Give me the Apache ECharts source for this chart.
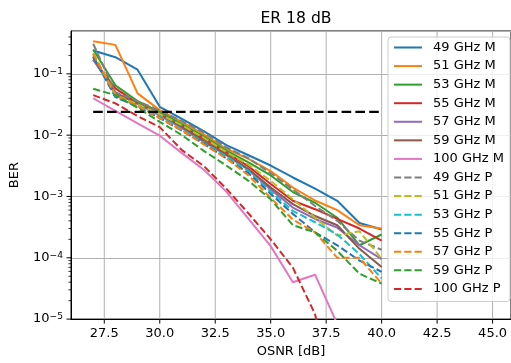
<!DOCTYPE html>
<html><head><meta charset="utf-8">
<script src="https://cdn.jsdelivr.net/npm/echarts@6/dist/echarts.min.js"></script>
<style>html,body{margin:0;padding:0;background:#fff}#c{width:511px;height:363px}</style>
</head><body><div id="c"></div>
<script>
const osnr = [27,28,29,30,31,32,33,34,35,36,37,38,39,40];
const xTicks = [27.5,30,32.5,35,37.5,40,42.5,45];
const yMajor = [1e-5,1e-4,1e-3,1e-2,1e-1];
const yMinor = [2e-5,3e-5,4e-5,5e-5,6e-5,7e-5,8e-5,9e-5,
  2e-4,3e-4,4e-4,5e-4,6e-4,7e-4,8e-4,9e-4,
  2e-3,3e-3,4e-3,5e-3,6e-3,7e-3,8e-3,9e-3,
  2e-2,3e-2,4e-2,5e-2,6e-2,7e-2,8e-2,9e-2,
  2e-1,3e-1,4e-1];
const thresholdX = [27,40];
const thresholdBER = 0.024;

const ber49M = [0.24,0.187,0.117,0.029,0.0184,0.0115,0.0069,0.0047,0.0032,0.00204,0.00134,0.00085,0.00037,0.00029];
const ber51M = [0.34,0.297,0.048,0.0256,0.0165,0.0102,0.006,0.0041,0.0026,0.0014,0.00086,0.0006,0.00034,0.0003];
const ber53M = [0.25,0.065,0.036,0.024,0.0152,0.0095,0.0056,0.0036,0.0022,0.00118,0.00079,0.00045,0.00016,0.00024];
const ber55M = [0.17,0.058,0.033,0.022,0.014,0.0087,0.0052,0.0031,0.0016,0.00085,0.00062,0.00043,0.0003,0.00019];
const ber57M = [0.17,0.05,0.032,0.021,0.013,0.0078,0.0047,0.0027,0.0013,0.00066,0.00043,0.00031,0.00016,0.000095];
const ber59M = [0.187,0.048,0.033,0.022,0.0138,0.008,0.0048,0.0028,0.0014,0.00075,0.00048,0.00034,0.00014,0.000071];
const ber100M = [0.04,0.025,0.0156,0.0098,0.0051,0.0027,0.0012,0.00043,0.000155,0.00004,0.000053,0.0000083,null,null];
const ber49P = [0.31,0.05,0.036,0.025,0.017,0.011,0.0063,0.0042,0.0024,0.0013,0.0007,0.0004,0.00019,0.000135];
const ber51P = [0.22,0.045,0.032,0.022,0.0145,0.009,0.0053,0.0033,0.0018,0.0009,0.00045,0.00023,0.00027,0.000096];
const ber53P = [0.2,0.042,0.03,0.02,0.0125,0.0075,0.0045,0.0026,0.0012,0.00058,0.00038,0.00024,0.000115,0.000046];
const ber55P = [0.19,0.042,0.029,0.019,0.0118,0.0072,0.0042,0.0024,0.0011,0.00052,0.00026,0.00016,0.00009,0.000059];
const ber57P = [0.21,0.045,0.03,0.019,0.012,0.007,0.0042,0.0022,0.00095,0.00042,0.00026,0.0001,0.0001,0.000038];
const ber59P = [0.057,0.045,0.028,0.0165,0.01,0.0055,0.0032,0.0018,0.0009,0.00034,0.00026,0.00013,0.000055,0.000038];
const ber100P = [0.045,0.033,0.0205,0.0135,0.0057,0.0031,0.00134,0.00053,0.0002,0.000069,0.000012,3e-7,null,null];

const seriesDefs = [
  ['49 GHz M', ber49M, '#1f77b4', false],
  ['51 GHz M', ber51M, '#ff7f0e', false],
  ['53 GHz M', ber53M, '#2ca02c', false],
  ['55 GHz M', ber55M, '#d62728', false],
  ['57 GHz M', ber57M, '#9467bd', false],
  ['59 GHz M', ber59M, '#8c564b', false],
  ['100 GHz M', ber100M, '#e377c2', false],
  ['49 GHz P', ber49P, '#7f7f7f', true],
  ['51 GHz P', ber51P, '#bcbd22', true],
  ['53 GHz P', ber53P, '#17becf', true],
  ['55 GHz P', ber55P, '#1f77b4', true],
  ['57 GHz P', ber57P, '#ff7f0e', true],
  ['59 GHz P', ber59P, '#2ca02c', true],
  ['100 GHz P', ber100P, '#d62728', true]
];

const X_MIN = 26, X_MAX = 45.83, Y_MIN = 1e-5, Y_MAX = 0.5;
const FONT = 'DejaVu Sans';

const series = [];
series.push({
  type: 'custom', silent: true, clip: false, z: 1,
  data: xTicks.map(v => [v, Y_MIN]),
  renderItem: function (params, api) {
    const x = api.value(0);
    const top = api.coord([x, Y_MAX]);
    const bot = api.coord([x, Y_MIN]);
    return {type: 'group', children: [
      {type: 'line', shape: {x1: top[0], y1: top[1], x2: bot[0], y2: bot[1]}, style: {stroke: '#b0b0b0', lineWidth: 1}},
      {type: 'line', shape: {x1: bot[0], y1: bot[1], x2: bot[0], y2: bot[1] + 4.5}, style: {stroke: '#000', lineWidth: 1}}
    ]};
  }
});
series.push({
  type: 'custom', silent: true, clip: false, z: 1,
  data: yMajor.map(v => [X_MIN, v, 1]).concat(yMinor.map(v => [X_MIN, v, 0])),
  renderItem: function (params, api) {
    const v = api.value(1), major = api.value(2);
    const p = api.coord([X_MIN, v]);
    const len = major ? 4.5 : 2.6;
    return {type: 'line', shape: {x1: p[0] - len, y1: p[1], x2: p[0], y2: p[1]}, style: {stroke: '#000', lineWidth: major ? 1 : 0.8}};
  }
});
seriesDefs.forEach(([name, vals, color, dashed]) => {
  series.push({
    name: name, type: 'line', symbol: 'none', showSymbol: false, z: 2,
    data: osnr.map((x, i) => [x, vals[i]]),
    connectNulls: false,
    lineStyle: {color: color, width: 2, type: dashed ? [7.2, 3.1] : 'solid'},
    itemStyle: {color: color}
  });
});
series.push({
  name: 'threshold', type: 'line', symbol: 'none', z: 3,
  data: thresholdX.map(x => [x, thresholdBER]),
  lineStyle: {color: '#000', width: 2.2, type: [9.6, 4.2]}
});

const chart = echarts.init(document.getElementById('c'), null, {renderer: 'canvas'});
chart.setOption({
  animation: false,
  backgroundColor: '#fff',
  title: {
    text: 'ER 18 dB', left: 291, textAlign: 'center', top: 6,
    textStyle: {fontFamily: FONT, fontSize: 15.6, fontWeight: 'normal', color: '#000'}
  },
  grid: {left: 69, top: 31, right: -1, bottom: 42, show: true, borderColor: '#000', borderWidth: 1, containLabel: false},
  legend: {
    orient: 'vertical', left: 388, top: 37,
    itemWidth: 28, itemHeight: 14, itemGap: 5.57,
    padding: [4, 6, 6, 5],
    backgroundColor: 'rgba(255,255,255,0.8)', borderColor: '#cccccc', borderWidth: 1, borderRadius: 3,
    itemStyle: {opacity: 0, borderWidth: 0},
    textStyle: {fontFamily: FONT, fontSize: 13, color: '#000', padding: [0, 0, 0, 6]},
    data: seriesDefs.map(d => d[0])
  },
  xAxis: {
    type: 'value', min: X_MIN, max: X_MAX,
    axisLine: {show: true, lineStyle: {color: '#000', width: 1}},
    axisTick: {show: false},
    splitLine: {show: false},
    axisLabel: {customValues: xTicks, formatter: v => v.toFixed(1), margin: 8, fontFamily: FONT, fontSize: 13, color: '#000'},
    name: 'OSNR [dB]', nameLocation: 'middle', nameGap: 25,
    nameTextStyle: {fontFamily: FONT, fontSize: 13, color: '#000'}
  },
  yAxis: {
    type: 'log', logBase: 10, min: Y_MIN, max: Y_MAX,
    axisLine: {show: true, lineStyle: {color: '#000', width: 1}},
    axisTick: {show: false},
    splitLine: {show: true, lineStyle: {color: '#b0b0b0', width: 1}},
    axisLabel: {
      showMaxLabel: false, margin: 8,
      formatter: v => { const e = Math.round(Math.log10(v)); return '{b|10}{s|\u2212' + Math.abs(e) + '}'; },
      rich: {
        b: {fontFamily: FONT, fontSize: 13, color: '#000'},
        s: {fontFamily: FONT, fontSize: 9.1, color: '#000', verticalAlign: 'top'}
      }
    },
    name: 'BER', nameLocation: 'middle', nameGap: 50,
    nameTextStyle: {fontFamily: FONT, fontSize: 13, color: '#000'}
  },
  series: series
});
</script></body></html>
